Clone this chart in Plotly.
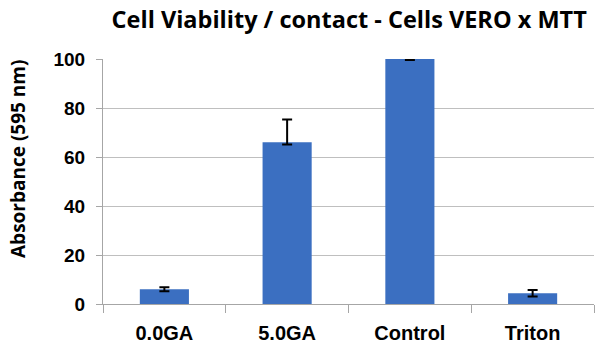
import plotly.graph_objects as go

categories = ["0.0GA", "5.0GA", "Control", "Triton"]
values = [6.0, 66.0, 100.0, 4.4]
err_plus = [0.8, 9.3, 0.4, 1.3]
err_minus = [0.8, 0.9, 0.4, 1.3]
y_ticks = [0, 20, 40, 60, 80, 100]

fig = go.Figure()
fig.add_trace(go.Bar(
    x=categories, y=values,
    marker=dict(color="#3B6FC1", line=dict(width=0)),
    error_y=dict(type="data", symmetric=False, array=err_plus, arrayminus=err_minus,
                 color="black", thickness=2, width=5),
))

fig.update_layout(
    width=600, height=349,
    margin=dict(l=103, r=6, t=59, b=45),
    paper_bgcolor="white", plot_bgcolor="white",
    bargap=0.6,
    showlegend=False,
    title=dict(text="<b>Cell Viability / contact - Cells VERO x MTT</b>",
               x=0.582, xanchor="center", y=0.942, yanchor="middle",
               font=dict(family="Open Sans", size=23.5, color="black")),
    font=dict(family="Liberation Sans", color="black"),
    annotations=[dict(
        text="<b>Absorbance (595 nm)</b>", textangle=-90,
        xref="paper", yref="paper", x=-0.172, y=0.59,
        xanchor="center", yanchor="middle", showarrow=False,
        font=dict(family="Open Sans", size=19, color="black"),
    )],
)
fig.update_xaxes(
    tickson="boundaries", ticks="outside", ticklen=8, tickcolor="#a6a6a6",
    showline=True, linecolor="#a6a6a6", linewidth=1,
    tickfont=dict(family="Liberation Sans", size=20, color="black", weight="bold"),
    ticklabelstandoff=11,
)
fig.update_yaxes(
    range=[0, 100], tickvals=y_ticks, ticks="outside", ticklen=6, tickcolor="#a6a6a6",
    showline=True, linecolor="#a6a6a6", linewidth=1,
    showgrid=True, gridcolor="#bfbfbf", gridwidth=1, zeroline=False,
    tickfont=dict(family="Liberation Sans", size=19, color="black", weight="bold"),
    ticklabelstandoff=7,
)

fig.write_html("out.html")
